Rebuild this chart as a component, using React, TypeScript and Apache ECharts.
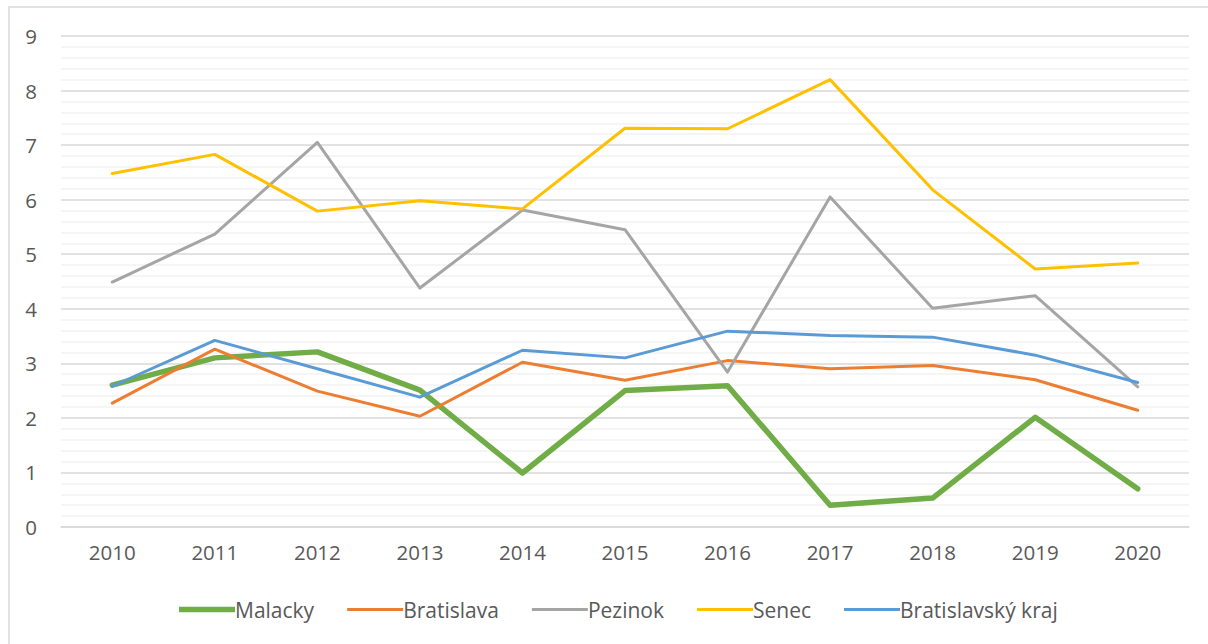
import React, { useEffect, useRef } from "react";
import * as echarts from "echarts";

const categories = ["2010", "2011", "2012", "2013", "2014", "2015", "2016", "2017", "2018", "2019", "2020"];
const malacky = [2.6, 3.1, 3.21, 2.51, 0.99, 2.5, 2.59, 0.4, 0.53, 2.01, 0.7];
const bratislava = [2.27, 3.26, 2.49, 2.03, 3.02, 2.69, 3.05, 2.9, 2.96, 2.7, 2.14];
const pezinok = [4.49, 5.37, 7.05, 4.38, 5.81, 5.45, 2.84, 6.05, 4.01, 4.24, 2.57];
const senec = [6.48, 6.83, 5.79, 5.98, 5.83, 7.31, 7.3, 8.2, 6.18, 4.73, 4.84];
const kraj = [2.58, 3.42, 2.9, 2.38, 3.24, 3.1, 3.59, 3.51, 3.48, 3.15, 2.65];
const yTicks = { min: 0, max: 9, interval: 1 };

export default function App() {
  const ref = useRef<HTMLDivElement>(null);
  useEffect(() => {
    document.body.style.margin = "0";
    const chart = echarts.init(ref.current!, null, { renderer: "svg" });
    const font = "Open Sans, Liberation Sans, sans-serif";
    const thick = "path://M0,0h56v5.5h-56z";
    const thin = "path://M0,0h56v3.2h-56z";
    const mk = (name: string, data: number[], color: string, width: number) => ({
      name,
      type: "line",
      data,
      symbol: "none",
      lineStyle: { color, width, cap: "round", join: "round" },
      itemStyle: { color },
    });
    chart.setOption({
      animation: false,
      backgroundColor: "#ffffff",
      graphic: [
        {
          type: "rect",
          shape: { x: 9, y: 7, width: 1210, height: 660 },
          style: { fill: "none", stroke: "#d9d9d9", lineWidth: 1.5 },
          silent: true,
        },
      ],
      grid: { left: 61, right: 19, top: 36, bottom: 117, containLabel: false },
      xAxis: {
        type: "category",
        data: categories,
        boundaryGap: true,
        axisLine: { show: true, lineStyle: { color: "#d9d9d9", width: 1.5 } },
        axisTick: { show: false },
        axisLabel: { color: "#595959", fontSize: 20.5, fontFamily: font, margin: 14 },
      },
      yAxis: {
        type: "value",
        min: yTicks.min,
        max: yTicks.max,
        interval: yTicks.interval,
        axisLine: { show: false },
        axisTick: { show: false },
        axisLabel: { color: "#595959", fontSize: 20.5, fontFamily: font, margin: 24 },
        splitLine: { show: true, lineStyle: { color: "#d9d9d9", width: 1.5 } },
        minorTick: { show: false, splitNumber: 5 },
        minorSplitLine: { show: true, lineStyle: { color: "#f2f2f2", width: 1.5 } },
      },
      legend: {
        top: 594,
        left: 174,
        itemGap: 33,
        itemWidth: 56,
        itemHeight: 6,
        textStyle: { color: "#595959", fontSize: 21, fontFamily: font, padding: [0, 0, 0, -5] },
        data: [
          { name: "Malacky", icon: thick },
          { name: "Bratislava", icon: thin },
          { name: "Pezinok", icon: thin },
          { name: "Senec", icon: thin },
          { name: "Bratislavský kraj", icon: thin },
        ],
      },
      series: [
        mk("Malacky", malacky, "#70AD47", 5.5),
        mk("Bratislava", bratislava, "#ED7D31", 3),
        mk("Pezinok", pezinok, "#A5A5A5", 3),
        mk("Senec", senec, "#FFC000", 3),
        mk("Bratislavský kraj", kraj, "#5B9BD5", 3),
      ],
    });
    return () => chart.dispose();
  }, []);
  return <div ref={ref} style={{ width: 1208, height: 644 }} />;
}
